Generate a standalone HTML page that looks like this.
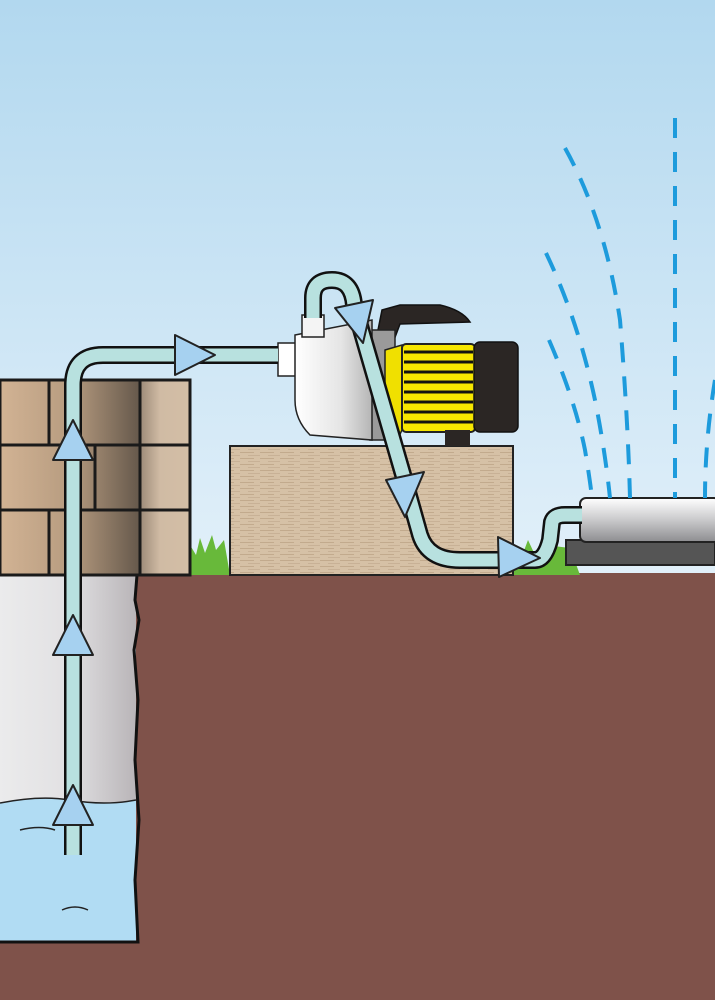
<!DOCTYPE html>
<html><head><style>html,body{margin:0;padding:0;}svg{display:block}</style></head>
<body>
<svg width="715" height="1000" viewBox="0 0 715 1000" xmlns="http://www.w3.org/2000/svg">
<defs>
<linearGradient id="sky" x1="0" y1="0" x2="0" y2="1">
<stop offset="0" stop-color="#b2d8ef"/><stop offset="0.6" stop-color="#e4f1fa"/><stop offset="1" stop-color="#eef6fc"/>
</linearGradient>
<linearGradient id="well" x1="0" y1="0" x2="1" y2="0">
<stop offset="0" stop-color="#ebebec"/><stop offset="0.5" stop-color="#e2e1e3"/><stop offset="1" stop-color="#b9b5b8"/>
</linearGradient>
<linearGradient id="brickR" x1="0" y1="0" x2="1" y2="0">
<stop offset="0" stop-color="#d2b394"/><stop offset="0.5" stop-color="#b79c80"/><stop offset="1" stop-color="#65584b"/>
</linearGradient>
<linearGradient id="brickC" x1="0" y1="0" x2="1" y2="0">
<stop offset="0" stop-color="#9c8a78"/><stop offset="0.4" stop-color="#d0bba4"/><stop offset="1" stop-color="#d3bea6"/>
</linearGradient>
<linearGradient id="pipeG" x1="0" y1="0" x2="0" y2="1">
<stop offset="0" stop-color="#fff"/><stop offset="0.5" stop-color="#c9c9cb"/><stop offset="1" stop-color="#8d8d90"/>
</linearGradient>
<linearGradient id="pumpG" x1="0" y1="0" x2="1" y2="0">
<stop offset="0" stop-color="#ffffff"/><stop offset="0.6" stop-color="#e5e5e5"/><stop offset="1" stop-color="#b5b5b5"/>
</linearGradient>
<pattern id="wood" width="20" height="6" patternUnits="userSpaceOnUse">
<rect width="20" height="6" fill="#d6c1a6"/><rect y="2" width="14" height="1" fill="#c2aa8d"/><rect x="8" y="5" width="12" height="1" fill="#c8b196"/>
</pattern>
</defs>
<rect width="715" height="1000" fill="url(#sky)"/>
<!-- ground -->
<rect x="0" y="573" width="715" height="427" fill="#7f524a"/>
<!-- well -->
<rect x="0" y="575" width="136" height="228" fill="url(#well)"/>
<path d="M0 803 Q40 795 70 800 Q105 806 136 800 L136 942 L0 942 Z" fill="#b1dcf3"/>
<path d="M0 803 Q40 795 70 800 Q105 806 136 800" fill="none" stroke="#222" stroke-width="1.5"/>
<path d="M20 830 Q40 825 55 830" fill="none" stroke="#222" stroke-width="1.5"/>
<path d="M62 910 Q75 904 88 910" fill="none" stroke="#222" stroke-width="1.5"/>
<path d="M137 575 L135 600 L139 620 L134 650 L138 700 L135 760 L139 820 L135 880 L138 942 L0 942" fill="none" stroke="#111" stroke-width="3"/>
<!-- grass -->
<path d="M188 575 L190 545 L196 555 L200 538 L205 553 L212 535 L216 550 L224 540 L230 575 Z" fill="#68b93a"/>
<path d="M510 575 L515 548 L522 556 L528 540 L535 555 L545 545 L570 548 L580 575 Z" fill="#68b93a"/>
<!-- bricks -->
<g stroke="#1a1a1a" stroke-width="3">
<rect x="0" y="380" width="140" height="65" fill="url(#brickR)"/>
<rect x="0" y="445" width="140" height="65" fill="url(#brickR)"/>
<rect x="0" y="510" width="140" height="65" fill="url(#brickR)"/>
<rect x="140" y="380" width="50" height="65" fill="url(#brickC)"/>
<rect x="140" y="445" width="50" height="65" fill="url(#brickC)"/>
<rect x="140" y="510" width="50" height="65" fill="url(#brickC)"/>
<line x1="49" y1="380" x2="49" y2="445"/><line x1="95" y1="445" x2="95" y2="510"/><line x1="49" y1="510" x2="49" y2="575"/>
</g>
<!-- wooden box -->
<rect x="230" y="446" width="283" height="129" fill="url(#wood)" stroke="#222" stroke-width="2"/>
<!-- sprinkler -->
<rect x="566" y="540" width="149" height="25" fill="#555" stroke="#222" stroke-width="2"/>
<rect x="580" y="498" width="140" height="44" rx="6" fill="url(#pipeG)" stroke="#222" stroke-width="2"/>
<!-- water dashes -->
<g fill="none" stroke="#1d9bdc" stroke-width="4" stroke-dasharray="20 14">
<path d="M675 118 L675 498"/>
<path d="M565 148 Q605 220 620 320 Q628 420 630 498"/>
<path d="M546 253 Q578 320 595 400 Q605 450 610 498"/>
<path d="M549 340 Q575 400 585 450 Q590 480 592 498"/>
<path d="M715 380 Q705 440 705 498"/>
</g>
<!-- pump motor -->
<path d="M378 330 L382 310 L400 305 L440 305 Q462 310 470 322 L400 324 L394 340 Z" fill="#2b2624" stroke="#111" stroke-width="1.5"/>
<rect x="370" y="330" width="25" height="110" fill="#9a9a9a" stroke="#222" stroke-width="1.5"/>
<path d="M385 350 L402 345 L402 430 L395 445 L385 440 Z" fill="#f0e000" stroke="#222" stroke-width="1.5"/>
<rect x="402" y="344" width="73" height="88" rx="4" fill="#f6e600" stroke="#222" stroke-width="2"/>
<g stroke="#111" stroke-width="3"><line x1="404" y1="352" x2="473" y2="352"/><line x1="404" y1="362" x2="473" y2="362"/><line x1="404" y1="372" x2="473" y2="372"/><line x1="404" y1="382" x2="473" y2="382"/><line x1="404" y1="392" x2="473" y2="392"/><line x1="404" y1="402" x2="473" y2="402"/><line x1="404" y1="412" x2="473" y2="412"/><line x1="404" y1="422" x2="473" y2="422"/></g>
<rect x="474" y="342" width="44" height="90" rx="6" fill="#2b2624" stroke="#111" stroke-width="1.5"/>
<rect x="445" y="430" width="25" height="16" fill="#2b2624"/>
<!-- pump body -->
<rect x="278" y="343" width="22" height="33" fill="#fff" stroke="#222" stroke-width="1.5"/>
<path d="M295 335 L372 320 L372 440 L310 435 Q295 420 295 400 Z" fill="url(#pumpG)" stroke="#222" stroke-width="1.5"/>
<rect x="302" y="315" width="22" height="22" fill="#f4f4f4" stroke="#222" stroke-width="1.5"/>
<!-- pipes -->
<g fill="none" stroke-linejoin="round" stroke-linecap="butt">
<path d="M73 855 L73 385 Q73 355 103 355 L278 355" stroke="#111" stroke-width="18"/>
<path d="M73 855 L73 385 Q73 355 103 355 L278 355" stroke="#b8e1df" stroke-width="13"/>
<path d="M313 318 L313 298 Q313 280 332 280 Q352 280 354 305 L404 478 L420 535 Q428 560 460 560 L535 560 Q545 560 550 540 L552 522 Q554 515 565 515 L582 515" stroke="#111" stroke-width="18"/>
<path d="M313 318 L313 298 Q313 280 332 280 Q352 280 354 305 L404 478 L420 535 Q428 560 460 560 L535 560 Q545 560 550 540 L552 522 Q554 515 565 515 L582 515" stroke="#b8e1df" stroke-width="13"/>
</g>
<!-- arrows -->
<g fill="#a6d1f0" stroke="#222" stroke-width="2" stroke-linejoin="round">
<polygon points="73,420 53,460 93,460"/>
<polygon points="73,615 53,655 93,655"/>
<polygon points="73,785 53,825 93,825"/>
<polygon points="215,355 175,335 175,375"/>
<polygon points="335,308 373,300 363,343"/>
<polygon points="405,517 386,480 424,472"/>
<polygon points="540,558 498,537 499,577"/>
</g>
</svg>
</body></html>
